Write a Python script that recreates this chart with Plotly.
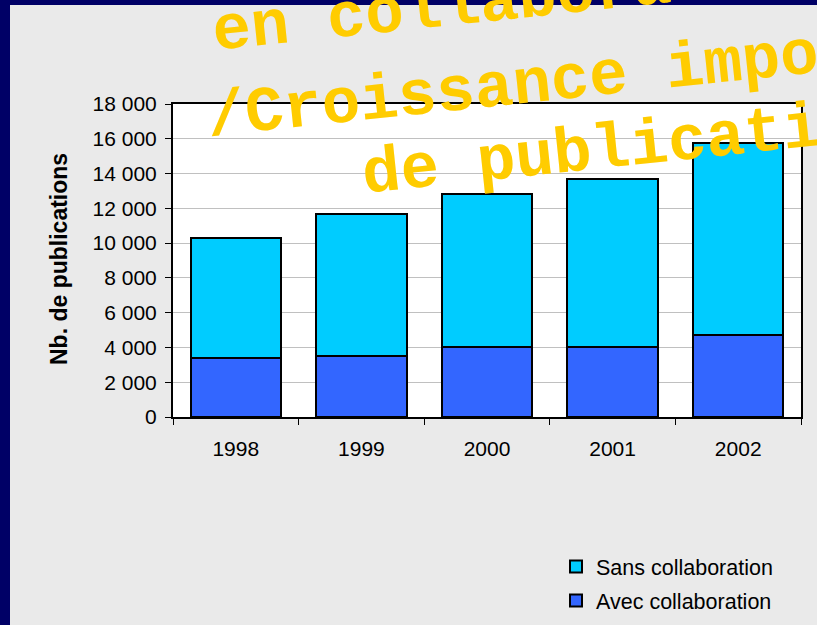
import plotly.graph_objects as go

years = ["1998", "1999", "2000", "2001", "2002"]
avec_collab = [3400, 3500, 4000, 4050, 4700]
sans_collab = [6900, 8150, 8850, 9650, 11050]

title_lines = ["en collaboration", "/Croissance importante", "de publications"]

W, H = 817, 625
L, R, T, B = 173, 16, 104, 208
pw, ph = W - L - R, H - T - B


def px_x(x):
    return (x - L) / pw


def px_y(y):
    return (H - B - y) / ph


fig = go.Figure()
fig.add_trace(go.Bar(x=years, y=avec_collab, name="Avec collaboration",
                     marker=dict(color="#3366FF", line=dict(color="black", width=2)),
                     legendgroup="a", legendrank=2))
fig.add_trace(go.Bar(x=years, y=sans_collab, name="Sans collaboration",
                     marker=dict(color="#00CCFF", line=dict(color="black", width=2)),
                     legendgroup="b", legendrank=1))

font_txt = "Arial, Liberation Sans, sans-serif"

fig.update_layout(
    width=W, height=H, autosize=False,
    margin=dict(l=L, r=R, t=T, b=B, pad=0),
    barmode="stack", bargap=0.28,
    paper_bgcolor="#EAEAEA", plot_bgcolor="white",
    separators=", ",
    showlegend=True,
    legend=dict(xref="paper", yref="container",
                x=px_x(556), y=(H - 621) / H, xanchor="left", yanchor="bottom",
                font=dict(family=font_txt, size=21.5, color="black"),
                bgcolor="rgba(0,0,0,0)", traceorder="grouped",
                tracegroupgap=3),
    font=dict(family=font_txt, size=20, color="black"),
)

fig.update_yaxes(range=[0, 18000], dtick=2000, tickformat=",d",
                 showgrid=True, gridcolor="#C0C0C0", gridwidth=1,
                 showline=True, linecolor="black", linewidth=2, mirror=True,
                 ticks="outside", ticklen=6, tickcolor="black", tickwidth=1,
                 ticklabelstandoff=4, zeroline=False, automargin=False,
                 tickfont=dict(family=font_txt, size=21, color="black"))
fig.update_xaxes(showline=True, linecolor="black", linewidth=2, mirror=True,
                 ticks="outside", tickson="boundaries", ticklen=6,
                 tickcolor="black", tickwidth=1, ticklabelstandoff=12,
                 automargin=False,
                 tickfont=dict(family=font_txt, size=21, color="black"))

# y axis title
fig.add_annotation(text="<b>Nb. de publications</b>", textangle=-90,
                   xref="paper", yref="paper", x=px_x(59), y=px_y(259),
                   xanchor="center", yanchor="middle", showarrow=False,
                   font=dict(family=font_txt, size=23, color="black"))

# navy frame of the slide
fig.add_shape(type="rect", xref="paper", yref="paper", layer="above",
              x0=px_x(-5), x1=px_x(W + 5), y0=px_y(5), y1=px_y(-5),
              fillcolor="#000066", line=dict(width=0))
fig.add_shape(type="rect", xref="paper", yref="paper", layer="above",
              x0=px_x(-5), x1=px_x(10), y0=px_y(H + 5), y1=px_y(-5),
              fillcolor="#000066", line=dict(width=0))

# slanted yellow slide title
centers = [(518, 1), (627, 75), (649, 146)]
for txt, (cx, cy) in zip(title_lines, centers):
    fig.add_annotation(text="<b>" + txt + "</b>", textangle=-6,
                       xref="paper", yref="paper", x=px_x(cx), y=px_y(cy),
                       xanchor="center", yanchor="middle", showarrow=False,
                       font=dict(family="Courier New, Liberation Mono, monospace",
                                 size=64, color="#FFCC00"))

fig.write_html("out.html", config={"displayModeBar": False, "responsive": False},
               post_script="document.body.style.margin='0';"
                           "document.body.style.overflow='hidden';")
